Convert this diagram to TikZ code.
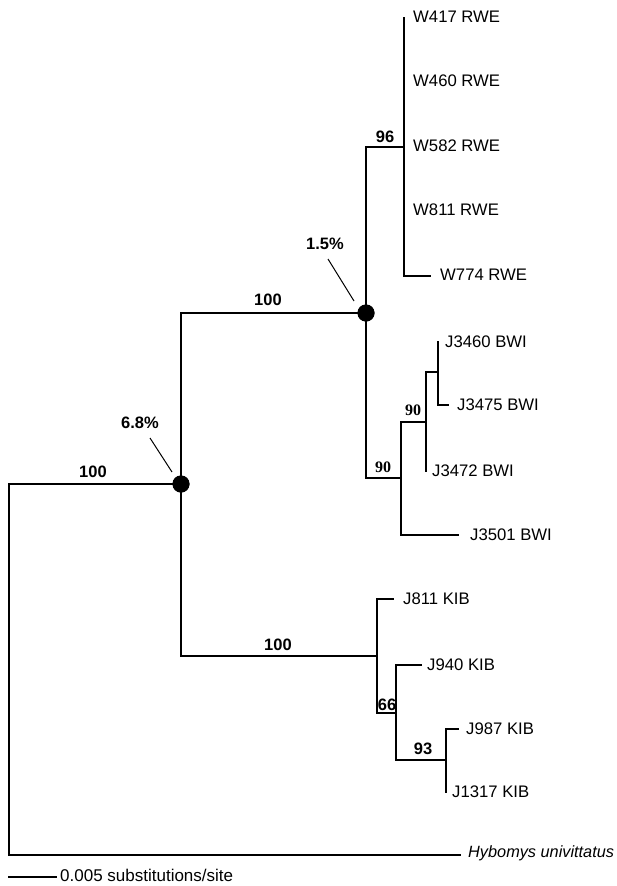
\documentclass[tikz,border=0pt]{standalone}
\usepackage{fontspec}
\setmainfont{Liberation Sans}
\newfontfamily\serifbold{Liberation Serif}
\begin{document}
\begin{tikzpicture}[x=1pt,y=-1pt,
  br/.style={line width=1.1pt, line cap=rect},
  taxon/.style={anchor=west, inner sep=0pt, font=\fontsize{16.7}{18}\selectfont},
  supp/.style={inner sep=0pt, font=\fontsize{16.5}{18}\selectfont\bfseries},
  suppserif/.style={inner sep=0pt, font=\fontsize{16}{18}\selectfont\serifbold\bfseries},
  dotnode/.style={circle, fill=black, minimum size=17pt, inner sep=0pt}]
\useasboundingbox (0,0) rectangle (616,886);
% internal nodes (coordinates)
\coordinate (root) at (9,484);
\coordinate (rootb) at (9,855);
\node[dotnode] (n68) at (181,484) {};
\coordinate (n68t) at (181,313);
\coordinate (n68b) at (181,656);
\node[dotnode] (n15) at (366,313) {};
\coordinate (n15t) at (366,147);
\coordinate (n15b) at (366,478);
\coordinate (rwe) at (404,147);
\coordinate (rwet) at (404,18);
\coordinate (rweb) at (404,276);
\coordinate (w774e) at (430,276);
\coordinate (bwi) at (401,478);
\coordinate (bwit) at (401,422);
\coordinate (bwib) at (401,535);
\coordinate (j3501e) at (458,535);
\coordinate (b2) at (426,422);
\coordinate (b2t) at (426,372);
\coordinate (b2b) at (426,471);
\coordinate (b3) at (438,372);
\coordinate (b3t) at (438,342);
\coordinate (b3b) at (438,405);
\coordinate (j3475e) at (448,405);
\coordinate (kib) at (377,656);
\coordinate (kibt) at (377,599);
\coordinate (kibb) at (377,713);
\coordinate (j811e) at (393,599);
\coordinate (k2) at (396,713);
\coordinate (k2t) at (396,665);
\coordinate (k2b) at (396,760);
\coordinate (j940e) at (421,665);
\coordinate (k3) at (446,760);
\coordinate (k3t) at (446,729);
\coordinate (k3b) at (446,792);
\coordinate (j987e) at (458,729);
\coordinate (outg) at (460,855);
\coordinate (sb1) at (9,877);
\coordinate (sb2) at (56,877);
% branches
\draw[br] (rootb) -- (root) -- (n68.center);
\draw[br] (rootb) -- (outg);
\draw[br] (n68t) -- (n68b);
\draw[br] (n68t) -- (n15.center);
\draw[br] (n15t) -- (n15b);
\draw[br] (n15t) -- (rwe);
\draw[br] (rwet) -- (rweb) -- (w774e);
\draw[br] (n15b) -- (bwi);
\draw[br] (bwit) -- (bwib) -- (j3501e);
\draw[br] (bwit) -- (b2);
\draw[br] (b2t) -- (b2b);
\draw[br] (b2t) -- (b3);
\draw[br] (b3t) -- (b3b) -- (j3475e);
\draw[br] (n68b) -- (kib);
\draw[br] (kibt) -- (kibb);
\draw[br] (kibt) -- (j811e);
\draw[br] (kibb) -- (k2);
\draw[br] (k2t) -- (k2b);
\draw[br] (k2t) -- (j940e);
\draw[br] (k2b) -- (k3);
\draw[br] (k3t) -- (k3b);
\draw[br] (k3t) -- (j987e);
\draw[br] (sb1) -- (sb2);
% dots on top
\node[dotnode] at (n68) {};
\node[dotnode] at (n15) {};
% taxa
\node[taxon] (t1) at (413,17) {W417 RWE};
\node[taxon] (t2) at (413,81) {W460 RWE};
\node[taxon] (t3) at (413,146) {W582 RWE};
\node[taxon] (t4) at (413,210) {W811 RWE};
\node[taxon] (t5) at (440,275) {W774 RWE};
\node[taxon] (t6) at (445,342) {J3460 BWI};
\node[taxon] (t7) at (457,405) {J3475 BWI};
\node[taxon] (t8) at (432,471) {J3472 BWI};
\node[taxon] (t9) at (470,535) {J3501 BWI};
\node[taxon] (t10) at (403,599) {J811 KIB};
\node[taxon] (t11) at (427,665) {J940 KIB};
\node[taxon] (t12) at (466,729) {J987 KIB};
\node[taxon] (t13) at (452,792) {J1317 KIB};
\node[taxon, font=\fontsize{16.3}{18}\selectfont\itshape] (t14) at (468,853) {Hybomys univittatus};
\node[taxon, font=\fontsize{17}{19}\selectfont] (scale) at (60,875) {0.005 substitutions/site};
% support values
\node[supp] (s96) at (385,137) {96};
\node[supp] (s100a) at (93,472) {100};
\node[supp] (s100b) at (268,300) {100};
\node[supp] (s100c) at (278,645) {100};
\node[suppserif] (s90a) at (383,467) {90};
\node[suppserif] (s90b) at (413,410) {90};
\node[supp] (s66) at (387,705) {66};
\node[supp] (s93) at (423,749) {93};
% divergence labels
\node[supp] (p68) at (140,423) {6.8\%};
\node[supp] (p15) at (325,244) {1.5\%};
\coordinate (l68a) at (150,438);
\coordinate (l68b) at (172,472);
\coordinate (l15a) at (328,259);
\coordinate (l15b) at (354,301);
\draw[line width=1pt] (l68a) -- (l68b);
\draw[line width=1pt] (l15a) -- (l15b);
\end{tikzpicture}
\end{document}
